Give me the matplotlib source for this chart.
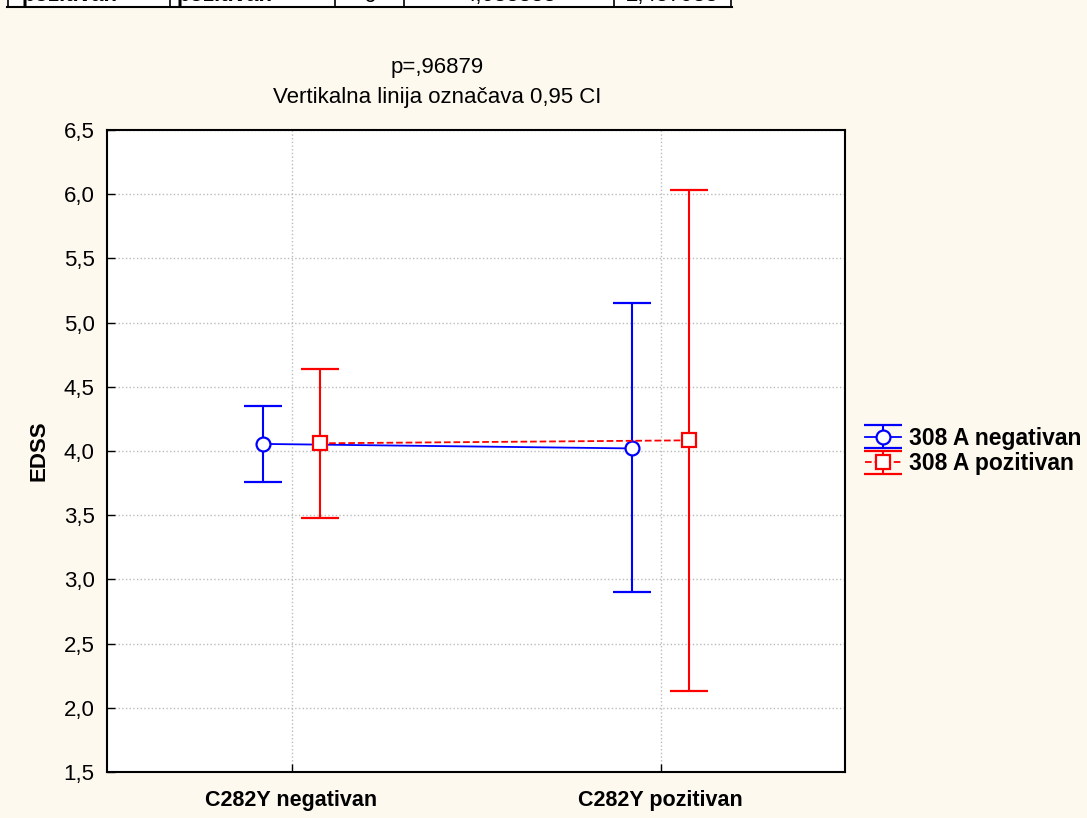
import matplotlib.pyplot as plt
import numpy as np

plt.rcParams['font.family'] = ['Liberation Sans', 'DejaVu Sans']

groups = ['C282Y negativan', 'C282Y pozitivan']
series = ['308 A negativan', '308 A pozitivan']
means = {'308 A negativan': [4.055, 4.02], '308 A pozitivan': [4.06, 4.083]}
lower = {'308 A negativan': [3.76, 2.90], '308 A pozitivan': [3.48, 2.13]}
upper = {'308 A negativan': [4.35, 5.15], '308 A pozitivan': [4.64, 6.03]}
table_row = ['pozitivan', 'pozitivan', '6', '4,083333', '2,457983']

bg = '#FEF9EF'
fig = plt.figure(figsize=(10.87, 8.18), dpi=100, facecolor=bg)
ax = fig.add_axes([107 / 1087, 1 - 772 / 818, 738 / 1087, 642 / 818])
ax.set_facecolor('white')

styles = [
    dict(color='#0000FF', marker='o', linestyle='-', offset=-0.076),
    dict(color='#FF0000', marker='s', linestyle='--', offset=0.076),
]
x = np.arange(len(groups))
for name, st in zip(series, styles):
    m = np.array(means[name])
    err = [m - np.array(lower[name]), np.array(upper[name]) - m]
    ax.errorbar(x + st['offset'], m, yerr=err, color=st['color'],
                marker=st['marker'], markersize=10 if st['marker'] == 'o' else 9.5,
                markerfacecolor='white', markeredgecolor=st['color'],
                markeredgewidth=1.6, linestyle=st['linestyle'], linewidth=1.3,
                elinewidth=1.5, capsize=13.5, capthick=1.5, label=name, zorder=3)

ax.set_xlim(-0.5, 1.5)
ax.set_ylim(1.5, 6.5)
ax.set_xticks(x)
ax.set_xticklabels(groups, fontsize=15.5, fontweight='bold')
yt = np.arange(1.5, 6.51, 0.5)
ax.set_yticks(yt)
ax.set_yticklabels([f'{v:.1f}'.replace('.', ',') for v in yt], fontsize=16)
ax.tick_params(direction='in', length=6, width=1, pad=9)
ax.tick_params(axis='x', pad=13)
ax.grid(color='#BBBBBB', linestyle=':', linewidth=1, zorder=0)
ax.set_axisbelow(True)
for s in ax.spines.values():
    s.set_linewidth(1.5)
ax.set_ylabel('EDSS', fontsize=16, fontweight='bold', labelpad=10)

ax.legend(loc='center left', bbox_to_anchor=(1.005, 0.5), frameon=False,
          prop={'size': 16.5, 'weight': 'bold'}, handlelength=1.6,
          handletextpad=0.35, labelspacing=0.1, borderaxespad=0.3)

fig.text(437 / 1087, 1 - 67 / 818, 'p=,96879', ha='center', va='center', fontsize=16)
fig.text(437 / 1087, 1 - 97 / 818, 'Vertikalna linija označava 0,95 CI',
         ha='center', va='center', fontsize=16)

# clipped table row at the very top
tab = fig.add_axes([7 / 1087, 1 - 8 / 818, 725 / 1087, 8 / 818])
tab.set_xlim(7, 732)
tab.set_ylim(8, 0)
tab.set_facecolor('white')
tab.set_xticks([])
tab.set_yticks([])
for s in tab.spines.values():
    s.set_visible(False)
tab.plot([7, 732], [7, 7], color='black', lw=1.5, clip_on=False)
for xv in [8, 170, 335, 404, 614, 731]:
    tab.plot([xv, xv], [0, 7], color='black', lw=1.2, clip_on=False)
cell_x = [70, 225, 370, 510, 672]
for i, (cx, t) in enumerate(zip(cell_x, table_row)):
    tab.text(cx, 1.5, t, ha='center', va='baseline', fontsize=16,
             fontweight='bold' if i < 2 else 'normal', clip_on=True)

fig.savefig('out.png', dpi=100, facecolor=bg)
